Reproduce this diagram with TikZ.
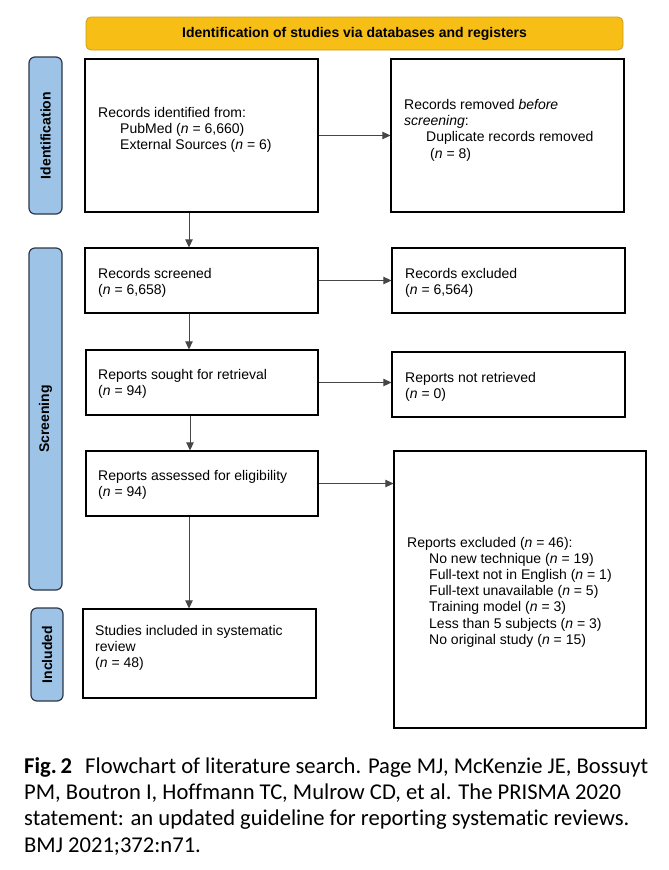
\documentclass[tikz,border=0pt]{standalone}
\usepackage{fontspec}
\setmainfont{Liberation Sans}
\newfontfamily\capfont[Ligatures=NoCommon]{Carlito}
\usetikzlibrary{arrows.meta,calc}
\definecolor{hdrfill}{RGB}{247,190,22}
\definecolor{hdrline}{RGB}{205,155,25}
\definecolor{barfill}{RGB}{157,195,230}
\definecolor{barline}{RGB}{45,55,72}
\definecolor{arrcol}{RGB}{70,70,70}
\tikzset{
  boxnode/.style={draw=black, line width=1.2pt, fill=white, inner sep=0pt},
  barnode/.style={draw=barline, fill=barfill, line width=1.2pt, rounded corners=6pt, inner sep=0pt},
  hdrnode/.style={draw=hdrline, fill=hdrfill, line width=0.8pt, rounded corners=5pt, inner sep=0pt},
  txt/.style={anchor=north west, inner sep=0pt, align=left, font=\fontsize{14pt}{16.4pt}\selectfont},
  sidetxt/.style={rotate=90, font=\fontsize{14pt}{16pt}\selectfont\bfseries},
  arr/.style={draw=arrcol, line width=0.9pt, -{Triangle[length=8pt,width=7.5pt]}, shorten >=0pt},
}
\newcommand{\nn}{\textit{n}}
\begin{document}
\begin{tikzpicture}[x=1pt,y=-1pt]
\useasboundingbox (0,0) rectangle (669,870);
% header
\node[hdrnode, minimum width=537pt, minimum height=33pt] (hdr) at (354.5,33.5)
  {\fontsize{14pt}{16pt}\selectfont\bfseries Identification of studies via databases and registers};
% side bars
\node[barnode, minimum width=33pt, minimum height=157pt] (barid) at (45.5,135.5) {};
\node[sidetxt] (lid) at (barid.center) {Identification};
\node[barnode, minimum width=33pt, minimum height=342pt] (barsc) at (45.5,419) {};
\node[sidetxt] (lsc) at (barsc.center) {Screening};
\node[barnode, minimum width=32pt, minimum height=93pt] (barin) at (47,654.5) {};
\node[sidetxt] (lin) at (barin.center) {Included};
% boxes
\node[boxnode, minimum width=233pt, minimum height=153pt] (A) at (201.5,135.5) {};
\node[boxnode, minimum width=233pt, minimum height=153pt] (B) at (507.5,135.5) {};
\node[boxnode, minimum width=233pt, minimum height=65pt] (C) at (201.5,280.5) {};
\node[boxnode, minimum width=233pt, minimum height=65pt] (D) at (508.5,280.5) {};
\node[boxnode, minimum width=232pt, minimum height=65pt] (E) at (202,382.5) {};
\node[boxnode, minimum width=233pt, minimum height=65pt] (F) at (508.5,384.5) {};
\node[boxnode, minimum width=232pt, minimum height=65pt] (G) at (202,483.5) {};
\node[boxnode, minimum width=252pt, minimum height=277pt] (H) at (520,589.5) {};
\node[boxnode, minimum width=233pt, minimum height=89pt] (I) at (199.5,653.5) {};
% texts
\node[txt] (tA) at (98,106.8) {Records identified from:\\\hspace*{22pt}PubMed (\nn{} = 6,660)\\\hspace*{22pt}External Sources (\nn{} = 6)};
\node[txt] (tB) at (404,98.8) {Records removed \textit{before}\\\textit{screening}:\\\hspace*{22pt}Duplicate records removed\\\hspace*{26pt}(\nn{} = 8)};
\node[txt] (tC) at (98,267.8) {Records screened\\(\nn{} = 6,658)};
\node[txt] (tD) at (405,267.8) {Records excluded\\(\nn{} = 6,564)};
\node[txt] (tE) at (98,368.8) {Reports sought for retrieval\\(\nn{} = 94)};
\node[txt] (tF) at (405,371.8) {Reports not retrieved\\(\nn{} = 0)};
\node[txt] (tG) at (98,469.8) {Reports assessed for eligibility\\(\nn{} = 94)};
\node[txt, font=\fontsize{14pt}{16.2pt}\selectfont] (tH) at (407,536.8) {Reports excluded (\nn{} = 46):\\
\hspace*{22pt}No new technique (\nn{} = 19)\\
\hspace*{22pt}Full-text not in English (\nn{} = 1)\\
\hspace*{22pt}Full-text unavailable (\nn{} = 5)\\
\hspace*{22pt}Training model (\nn{} = 3)\\
\hspace*{22pt}Less than 5 subjects (\nn{} = 3)\\
\hspace*{22pt}No original study (\nn{} = 15)};
\node[txt] (tI) at (95,624.8) {Studies included in systematic\\review\\(\nn{} = 48)};
% arrows
\coordinate (xa) at (189,0);
\coordinate (xb) at (190,0);
\draw[arr] (A.south -| xa) -- (C.north -| xa);
\draw[arr] (C.south -| xa) -- (E.north -| xa);
\draw[arr] (E.south -| xb) -- (G.north -| xb);
\draw[arr] (G.south -| xa) -- (I.north -| xa);
\draw[arr] (A.east) -- (A.east -| B.west);
\draw[arr] (C.east) -- (C.east -| D.west);
\draw[arr] (E.east) -- (E.east -| F.west);
\draw[arr] (G.east) -- (G.east -| H.west);
% caption
\node[anchor=north west, inner sep=0pt, align=left, font=\capfont\fontsize{22.6pt}{26.4pt}\selectfont] (cap) at (24,757)
{\textbf{Fig.\,2}\hspace{8pt} Flowchart of literature search. Page MJ, McKenzie JE, Bossuyt\\
PM, Boutron I, Hoffmann TC, Mulrow CD, et al. The PRISMA 2020\\
statement: an updated guideline for reporting systematic reviews.\\
BMJ 2021;372:n71.};
\end{tikzpicture}
\end{document}
